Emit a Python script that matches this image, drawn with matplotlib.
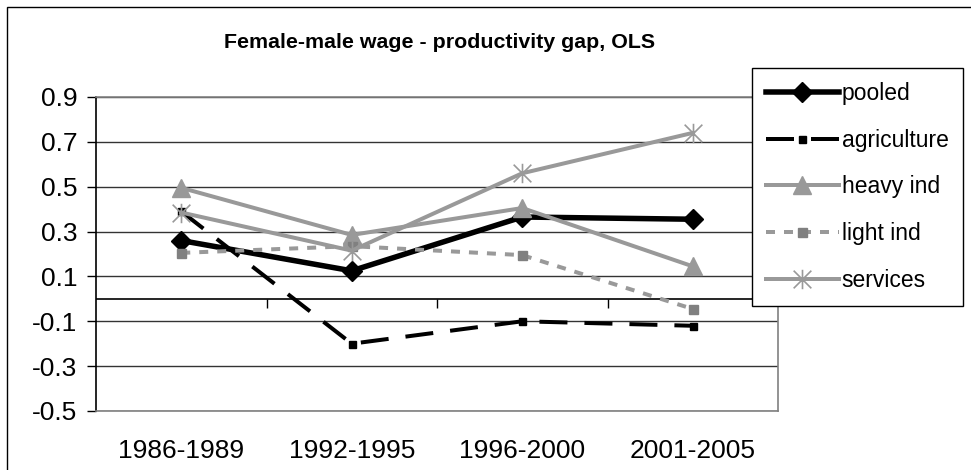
import matplotlib
matplotlib.use("Agg")
import matplotlib.pyplot as plt
from matplotlib.path import Path
from matplotlib.patches import Rectangle

plt.rcParams['font.family'] = ['Liberation Sans', 'DejaVu Sans']
plt.rcParams['lines.scale_dashes'] = False

categories = ["1986-1989", "1992-1995", "1996-2000", "2001-2005"]
pooled = [0.26, 0.125, 0.365, 0.355]
agriculture = [0.39, -0.20, -0.10, -0.12]
heavy_ind = [0.495, 0.285, 0.405, 0.145]
light_ind = [0.205, 0.235, 0.195, -0.045]
services = [0.385, 0.215, 0.56, 0.74]
yticks = [0.9, 0.7, 0.5, 0.3, 0.1, -0.1, -0.3, -0.5]
title = "Female-male wage - productivity gap, OLS"

W, H, DPI = 971, 470, 100
fig = plt.figure(figsize=(W / DPI, H / DPI), dpi=DPI)
ax = fig.add_axes([96 / W, 1 - 411 / H, (778 - 96) / W, (411 - 97) / H])

x = list(range(len(categories)))
px = 72 / DPI  # points per pixel

star = Path([(-1, -1), (1, 1), (-1, 1), (1, -1), (0, -1.1), (0, 1.1)],
            [Path.MOVETO, Path.LINETO, Path.MOVETO, Path.LINETO, Path.MOVETO, Path.LINETO])

gray = '#999999'
ax.plot(x, pooled, color='black', lw=5.5 * px, marker='D', ms=10, label='pooled', zorder=3,
        solid_joinstyle='miter')
ax.plot(x, agriculture, color='black', lw=4 * px, dashes=(28 * px, 17 * px), marker='s',
        ms=7 * px, label='agriculture', zorder=4)
ax.plot(x, heavy_ind, color=gray, lw=4 * px, marker='^', ms=13, label='heavy ind', zorder=5)
ax.plot(x, light_ind, color=gray, lw=4 * px, dashes=(9 * px, 9 * px), marker='s', ms=9 * px,
        mfc='#808080', mec='#808080', label='light ind', zorder=6)
ax.plot(x, services, color=gray, lw=4 * px, marker=star, ms=14, mew=1.2, mec=gray,
        label='services', zorder=7)

ax.set_xlim(-0.5, len(categories) - 0.5)
ax.set_ylim(-0.5, 0.9)
ax.set_yticks(yticks)
ax.set_yticklabels([f"{v:.1f}" for v in yticks])
for v in yticks:
    ax.axhline(v, color='#333333', lw=1, zorder=1)
ax.axhline(0, color='black', lw=1.2, zorder=2)
tick_len = 9 / ((411 - 97) / 1.4)
ax.vlines([i + 0.5 for i in x[:-1]], -tick_len, 0, color='black', lw=1, zorder=2)

ax.set_xticks(x)
ax.set_xticklabels(categories)
ax.tick_params(axis='x', length=0, pad=20, labelsize=19)
ax.tick_params(axis='y', length=9 * px, width=1, pad=7, labelsize=19, direction='out')

for s in ['top', 'right', 'bottom']:
    ax.spines[s].set_color('#808080')
    ax.spines[s].set_linewidth(1.2)
ax.spines['left'].set_color('black')
ax.spines['left'].set_linewidth(1.2)

fig.text(440 / W, 1 - 42 / H, title, ha='center', va='center', fontsize=15.4, fontweight='bold')

leg = fig.legend(loc='upper left', bbox_to_anchor=(752 / W, 1 - 68 / H, (963 - 752) / W, 0),
                 mode='expand', fontsize=16.5, frameon=True, fancybox=False, framealpha=1,
                 edgecolor='black', handlelength=3.2, handletextpad=0.12, labelspacing=1.04,
                 borderpad=0.6, borderaxespad=0)
leg.get_frame().set_linewidth(1)

fig.patches.append(Rectangle((7 / W, -0.1), 1.2, 1 - 7 / H + 0.1, transform=fig.transFigure,
                             fill=False, edgecolor='black', lw=1, clip_on=False))

fig.savefig('out.png', dpi=DPI)
